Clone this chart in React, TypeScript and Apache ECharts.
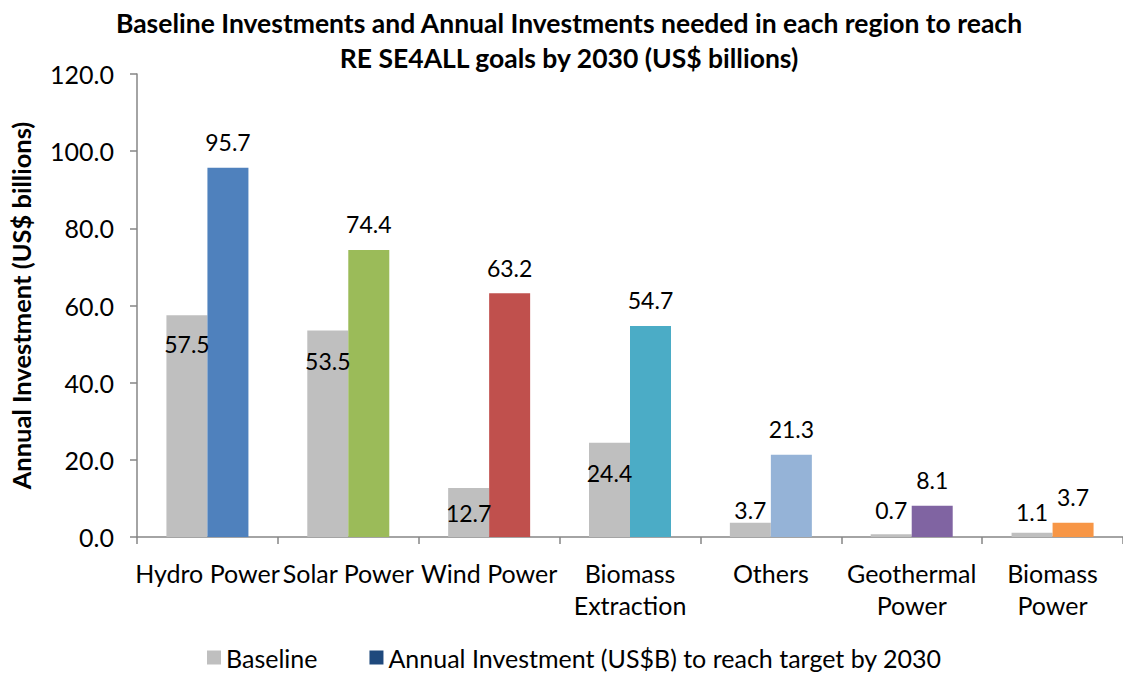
import React, { useEffect, useRef } from "react";
import * as echarts from "echarts";

const categories = [
  "Hydro Power",
  "Solar Power",
  "Wind Power",
  "Biomass\nExtraction",
  "Others",
  "Geothermal\nPower",
  "Biomass\nPower",
];
const baseline = [57.5, 53.5, 12.7, 24.4, 3.7, 0.7, 1.1];
const target = [95.7, 74.4, 63.2, 54.7, 21.3, 8.1, 3.7];
const yTicks = [0, 20, 40, 60, 80, 100, 120];
const seriesNames = ["Baseline", "Annual Investment (US$B) to reach target by 2030"];
const titleText =
  "Baseline Investments and Annual Investments needed in each region to reach\nRE SE4ALL goals by 2030 (US$ billions)";
const yAxisTitle = "Annual Investment (US$ billions)";

const FONT = "Lato";
const targetColors = ["#4F81BD", "#9BBB59", "#C0504D", "#4BACC6", "#95B3D7", "#8064A2", "#F79646"];
// label placement for the baseline labels (style only)
const baselineLabelPlacement: [string, number][] = [
  ["insideTop", 17],
  ["insideTop", 19],
  ["insideTop", 14],
  ["insideTop", 19],
  ["top", 1],
  ["top", 13],
  ["top", 9],
];

export default function App() {
  const ref = useRef<HTMLDivElement>(null);
  useEffect(() => {
    if (!ref.current) return;
    const chart = echarts.init(ref.current, null, { renderer: "svg" });
    const labelStyle = { fontFamily: FONT, fontSize: 23, color: "#000" };
    chart.setOption({
      animation: false,
      backgroundColor: "#fff",
      title: {
        text: titleText,
        left: 564,
        textAlign: "center",
        top: 0,
        textStyle: {
          fontFamily: FONT,
          fontWeight: "bold",
          fontSize: 26.5,
          lineHeight: 35,
          color: "#000",
        },
      },
      legend: {
        bottom: -2,
        left: 202,
        itemWidth: 14,
        itemHeight: 14,
        itemGap: 52,
        icon: "rect",
        textStyle: { fontFamily: FONT, fontSize: 25, color: "#000" },
        data: seriesNames,
      },
      grid: { left: 133, width: 994, top: 74, bottom: 136 },
      xAxis: {
        type: "category",
        data: categories,
        axisLine: { lineStyle: { color: "#868686", width: 1.5 } },
        axisTick: { show: true, length: 7, lineStyle: { color: "#868686", width: 1.5 } },
        axisLabel: {
          fontFamily: FONT,
          fontSize: 25,
          color: "#000",
          lineHeight: 32,
          margin: 20,
          interval: 0,
        },
      },
      yAxis: {
        type: "value",
        min: yTicks[0],
        max: yTicks[yTicks.length - 1],
        interval: 20,
        name: yAxisTitle,
        nameLocation: "middle",
        nameGap: 103,
        nameTextStyle: { fontFamily: FONT, fontWeight: "bold", fontSize: 25.5, color: "#000" },
        axisLine: { show: true, lineStyle: { color: "#868686", width: 1.5 } },
        axisTick: { show: true, length: 7, lineStyle: { color: "#868686", width: 1.5 } },
        splitLine: { show: false },
        axisLabel: {
          fontFamily: FONT,
          fontSize: 25,
          color: "#000",
          margin: 23,
          formatter: (v: number) => v.toFixed(1),
        },
      },
      series: [
        {
          name: seriesNames[0],
          type: "bar",
          barWidth: 41,
          barGap: "0%",
          itemStyle: { color: "#BFBFBF" },
          data: baseline.map((v, i) => ({
            value: v,
            label: {
              show: true,
              position: baselineLabelPlacement[i][0],
              distance: baselineLabelPlacement[i][1],
              ...labelStyle,
              formatter: (p: any) => Number(p.value).toFixed(1),
            },
          })),
        },
        {
          name: seriesNames[1],
          type: "bar",
          barWidth: 41,
          barGap: "0%",
          itemStyle: { color: "#1F497D" },
          label: {
            show: true,
            position: "top",
            distance: 14,
            ...labelStyle,
            formatter: (p: any) => Number(p.value).toFixed(1),
          },
          data: target.map((v, i) => ({ value: v, itemStyle: { color: targetColors[i] } })),
        },
      ],
    });
    return () => chart.dispose();
  }, []);
  return (
    <div
      ref={ref}
      style={{ position: "fixed", left: 0, top: 0, width: 1123, height: 673 }}
    />
  );
}
